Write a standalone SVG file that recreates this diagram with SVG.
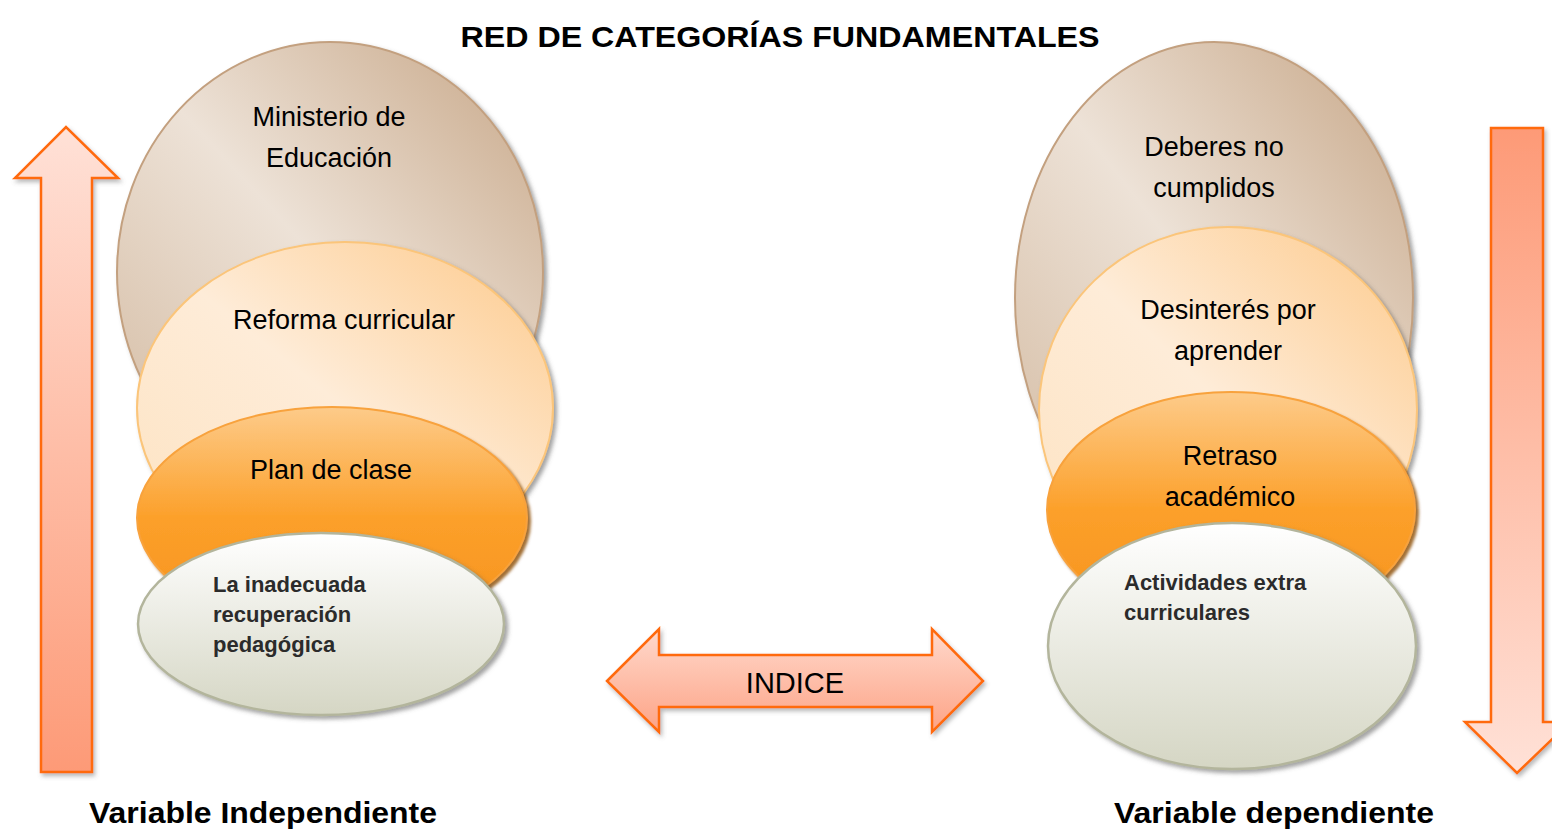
<svg xmlns="http://www.w3.org/2000/svg" width="1552" height="831" viewBox="0 0 1552 831">
<style>
.t{font-family:"Liberation Sans",Arial,sans-serif;font-size:27px;fill:#000;text-anchor:middle}
.b{font-family:"Liberation Sans",Arial,sans-serif;font-size:22px;font-weight:bold;fill:#2b2b2b}
.h{font-family:"Liberation Sans",Arial,sans-serif;font-weight:bold;fill:#000;text-anchor:middle}
.e1{fill:url(#gTan);stroke:#c3a07f;stroke-width:2;filter:url(#sh)}
.e2{fill:url(#gPeach);stroke:#fbc57a;stroke-width:2;filter:url(#sh)}
.e3{fill:url(#gOrange);stroke:#f8a23c;stroke-width:2;filter:url(#shO)}
.e4{fill:url(#gWhite);stroke:#b3b59c;stroke-width:2.5;filter:url(#sh)}
.arr{stroke:#ff6a0e;stroke-width:2.5;stroke-linejoin:miter;filter:url(#shA)}
</style>
<defs>
<linearGradient id="gTan" x1="0" y1="1" x2="1" y2="0">
<stop offset="0" stop-color="#d2b89e"/><stop offset="0.5" stop-color="#ede2d7"/><stop offset="1" stop-color="#c6a585"/>
</linearGradient>
<linearGradient id="gPeach" x1="0" y1="1" x2="1" y2="0">
<stop offset="0" stop-color="#fde2c0"/><stop offset="0.5" stop-color="#feecd8"/><stop offset="1" stop-color="#fdc98a"/>
</linearGradient>
<linearGradient id="gOrange" x1="0" y1="0" x2="0" y2="1">
<stop offset="0" stop-color="#fdcb8a"/><stop offset="0.5" stop-color="#fca02a"/><stop offset="1" stop-color="#f6921e"/>
</linearGradient>
<linearGradient id="gWhite" x1="0" y1="0" x2="0" y2="1">
<stop offset="0" stop-color="#ffffff"/><stop offset="1" stop-color="#d5d6c4"/>
</linearGradient>
<linearGradient id="gArrUp" x1="0" y1="0" x2="0" y2="1">
<stop offset="0" stop-color="#ffe1d7"/><stop offset="1" stop-color="#fd9a77"/>
</linearGradient>
<linearGradient id="gArrDown" x1="0" y1="0" x2="0" y2="1">
<stop offset="0" stop-color="#fd9a77"/><stop offset="1" stop-color="#ffe1d7"/>
</linearGradient>
<linearGradient id="gArrH" x1="0" y1="0" x2="0" y2="1">
<stop offset="0" stop-color="#ffd9cc"/><stop offset="1" stop-color="#fda386"/>
</linearGradient>
<filter id="sh" x="-10%" y="-10%" width="125%" height="125%">
<feDropShadow dx="3" dy="3" stdDeviation="2" flood-color="#555" flood-opacity="0.55"/>
</filter>
<filter id="shO" x="-10%" y="-10%" width="125%" height="125%">
<feDropShadow dx="3" dy="3" stdDeviation="1.5" flood-color="#8a4a00" flood-opacity="0.8"/>
</filter>
<filter id="shA" x="-20%" y="-10%" width="140%" height="125%">
<feDropShadow dx="2" dy="3" stdDeviation="2" flood-color="#666" flood-opacity="0.45"/>
</filter>
</defs>
<rect width="1552" height="831" fill="#fff"/>

<g id="connectors">
<path id="arrow-up" class="arr" fill="url(#gArrUp)" d="M41,772 L41,178 L15,178 L66,127 L118,178 L92,178 L92,772 Z"/>
<path id="arrow-down" class="arr" fill="url(#gArrDown)" d="M1491,128 L1543,128 L1543,722 L1570,722 L1517,773 L1465,722 L1491,722 Z"/>
<path id="arrow-indice" class="arr" fill="url(#gArrH)" d="M607,681 L659,629 L659,655 L932,655 L932,629 L983,681 L932,732 L932,707 L659,707 L659,732 Z"/>
</g>

<text class="h" x="780" y="47" font-size="30" textLength="639" lengthAdjust="spacingAndGlyphs">RED DE CATEGORÍAS FUNDAMENTALES</text>

<g id="node-ministerio">
<ellipse class="e1" cx="330" cy="272" rx="213" ry="230"/>
<text class="t" x="329" y="126">Ministerio de</text>
<text class="t" x="329" y="167">Educación</text>
</g>
<g id="node-reforma">
<ellipse class="e2" cx="345" cy="408" rx="208" ry="166"/>
<text class="t" x="344" y="329">Reforma curricular</text>
</g>
<g id="node-plan">
<ellipse class="e3" cx="332" cy="518" rx="195" ry="111"/>
<text class="t" x="331" y="479">Plan de clase</text>
</g>
<g id="node-inadecuada">
<ellipse class="e4" cx="321" cy="624" rx="183" ry="91"/>
<text class="b" x="213" y="592">La inadecuada</text>
<text class="b" x="213" y="622">recuperación</text>
<text class="b" x="213" y="652">pedagógica</text>
</g>

<g id="node-deberes">
<ellipse class="e1" cx="1214" cy="298" rx="199" ry="256"/>
<text class="t" x="1214" y="156">Deberes no</text>
<text class="t" x="1214" y="197">cumplidos</text>
</g>
<g id="node-desinteres">
<ellipse class="e2" cx="1228" cy="410" rx="189" ry="183"/>
<text class="t" x="1228" y="319">Desinterés por</text>
<text class="t" x="1228" y="360">aprender</text>
</g>
<g id="node-retraso">
<ellipse class="e3" cx="1231" cy="510" rx="184" ry="118"/>
<text class="t" x="1230" y="465">Retraso</text>
<text class="t" x="1230" y="506">académico</text>
</g>
<g id="node-actividades">
<ellipse class="e4" cx="1232" cy="646" rx="184" ry="123"/>
<text class="b" x="1124" y="590">Actividades extra</text>
<text class="b" x="1124" y="620">curriculares</text>
</g>

<text class="t" x="795" y="693" style="font-size:29px">INDICE</text>
<text class="h" x="263" y="823" font-size="30" textLength="348" lengthAdjust="spacingAndGlyphs">Variable Independiente</text>
<text class="h" x="1274" y="823" font-size="30" textLength="320" lengthAdjust="spacingAndGlyphs">Variable dependiente</text>
</svg>
